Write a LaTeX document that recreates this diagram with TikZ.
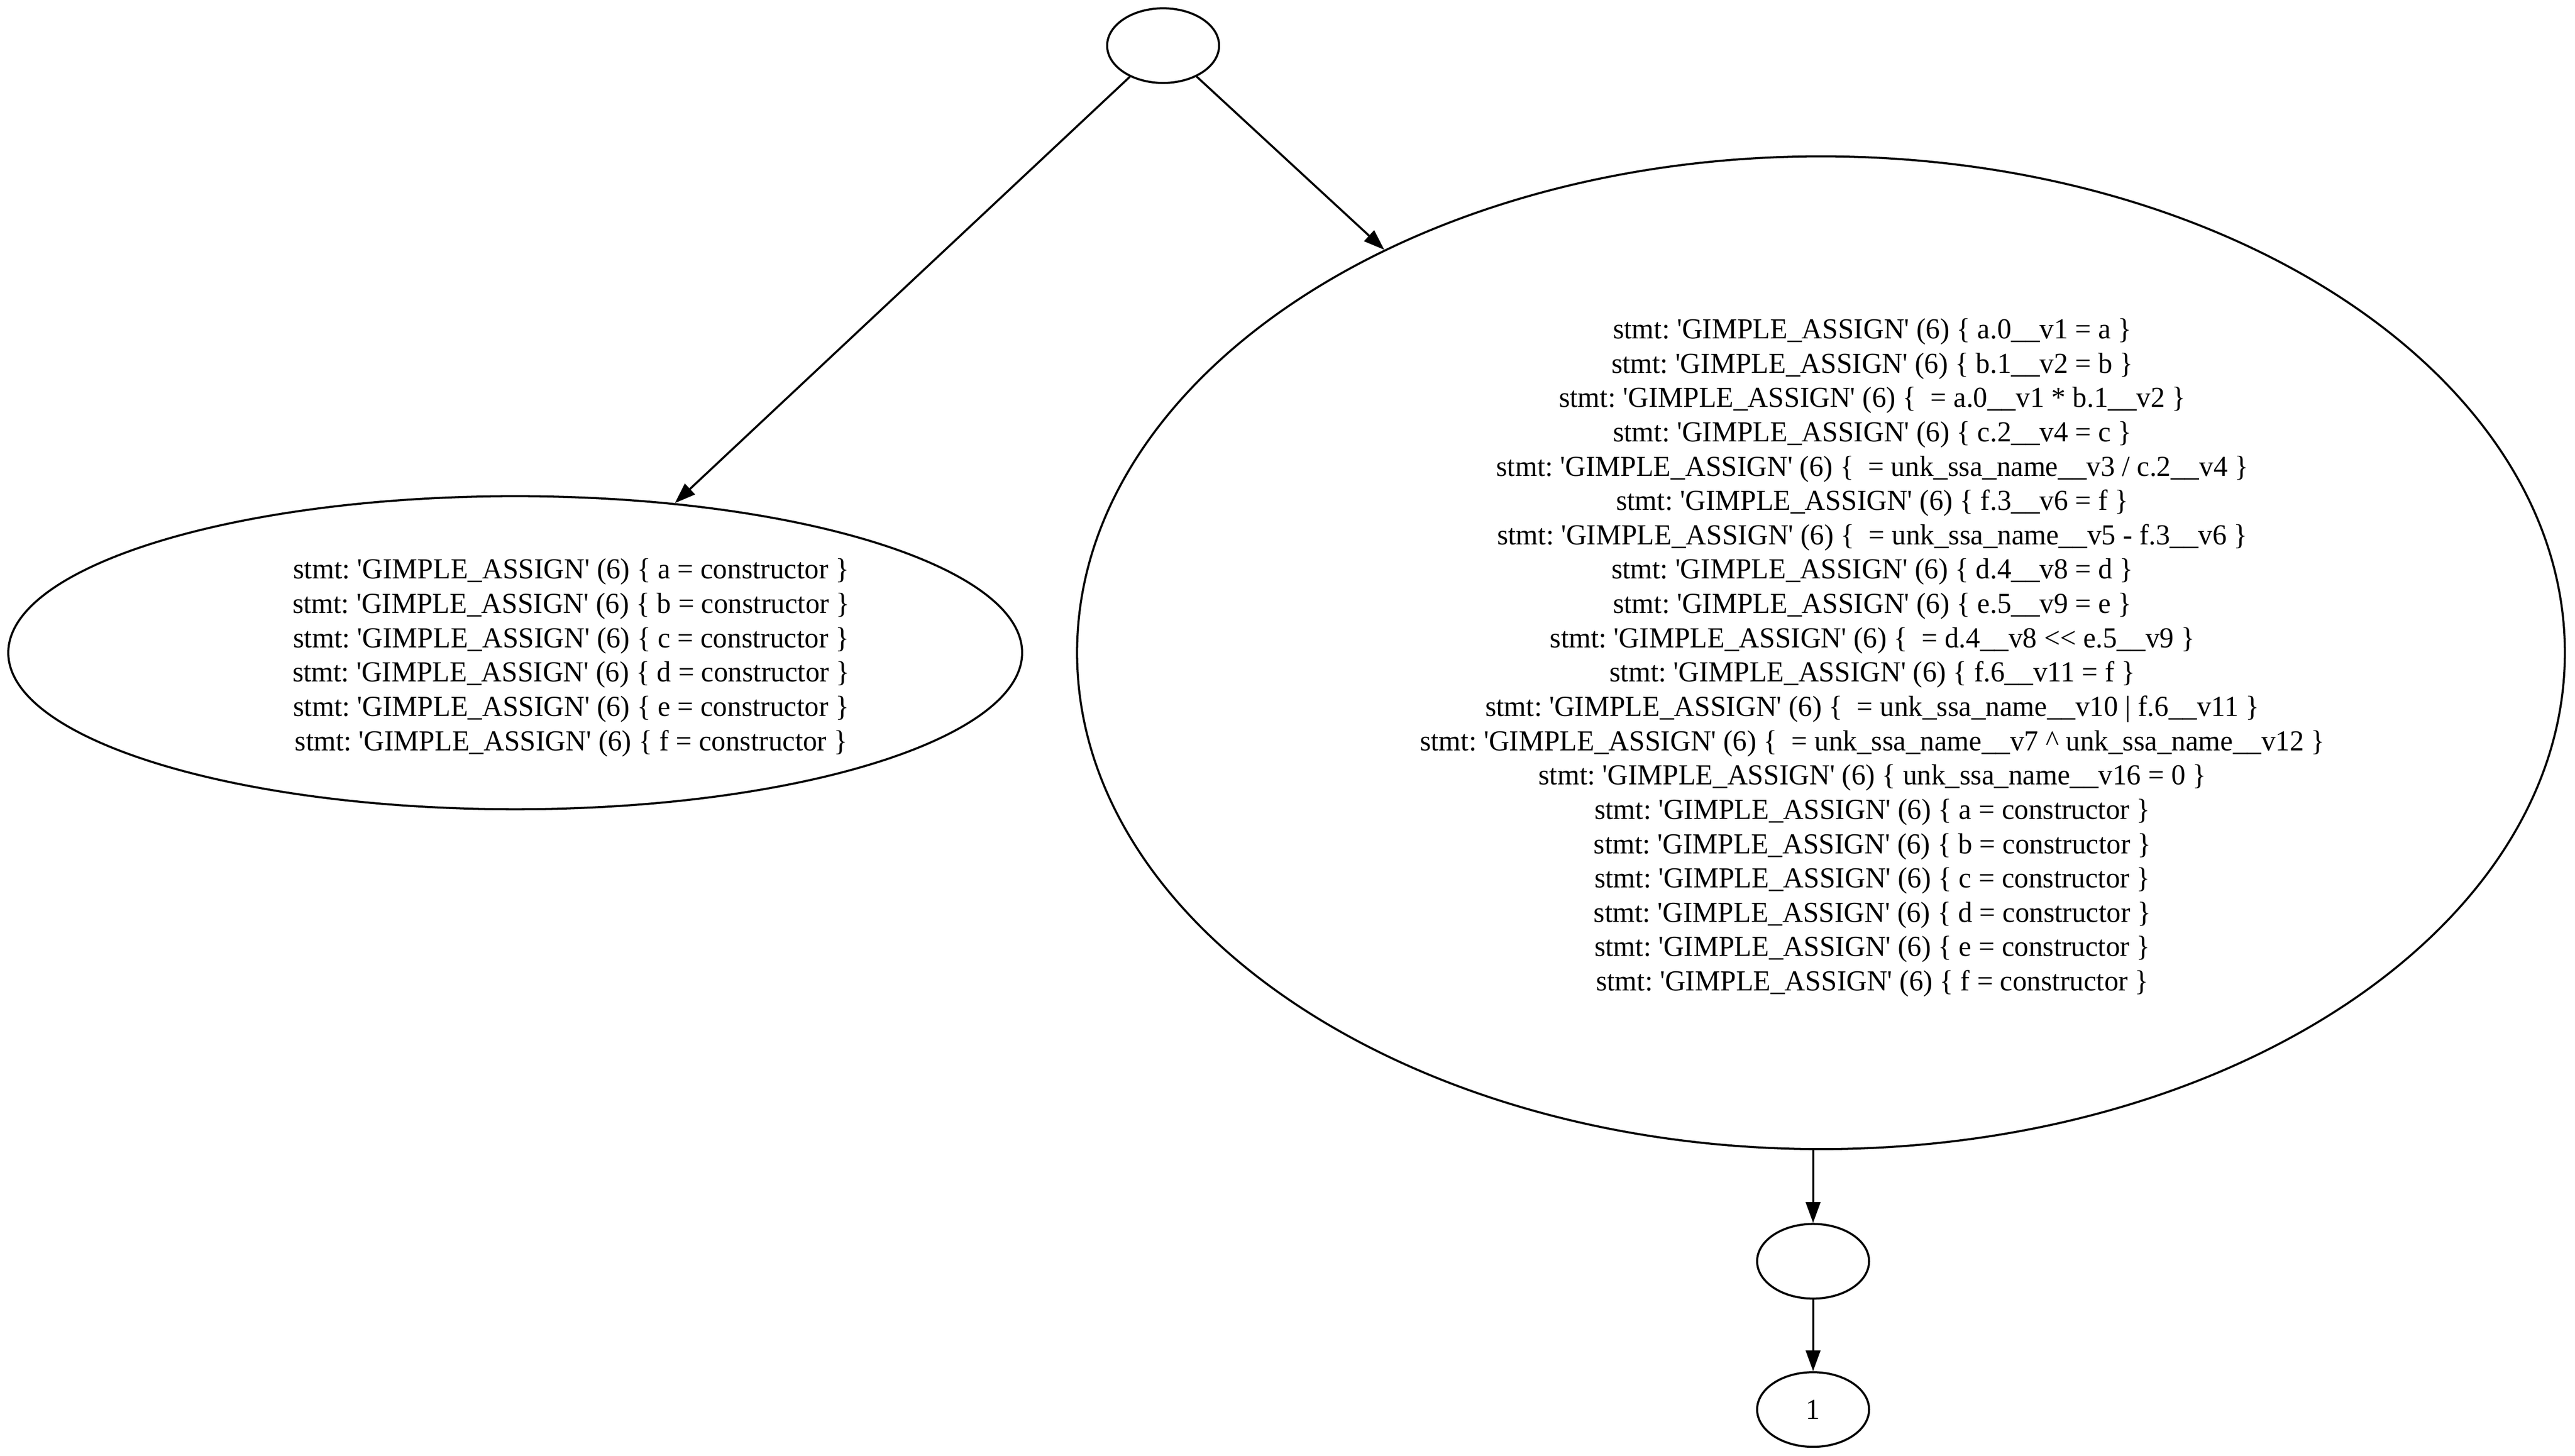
\documentclass[tikz,border=0pt]{standalone}
\usepackage{fontspec}
\newfontfamily\gvfont{Liberation Serif}[FakeStretch=0.978]
\usetikzlibrary{shapes.geometric,arrows.meta}
\newcommand{\gstmt}[1]{stmt: 'GIMPLE\_ASSIGN' (6) \{ #1 \}}
\tikzset{
  gnode/.style={draw, ellipse, line width=1pt, inner sep=0pt, align=center,
    font={\gvfont\fontsize{14pt}{16.55pt}\selectfont\frenchspacing}},
  gtext/.style={inner sep=0pt, align=center,
    font={\gvfont\fontsize{14pt}{16.55pt}\selectfont\frenchspacing}},
  garrow/.style={-{Triangle[length=10pt,width=7pt]}, line width=1pt}
}
\begin{document}
\begin{tikzpicture}[x=1pt,y=-1pt]
\useasboundingbox (0,0) rectangle (1242,702);
\node[gnode, minimum width=54pt, minimum height=36pt] (top) at (561,22) {};
\node[gnode, minimum width=489pt, minimum height=151pt] (left) at (248.5,314.8) {};
\node[gtext] (lefttext) at ([xshift=27pt,yshift=-2.4pt]left.center) {%
\gstmt{a = constructor}\\
\gstmt{b = constructor}\\
\gstmt{c = constructor}\\
\gstmt{d = constructor}\\
\gstmt{e = constructor}\\
\gstmt{f = constructor}};
\node[gnode, minimum width=717.6pt, minimum height=478.8pt] (right) at (878.3,314.8) {};
\node[gtext] (righttext) at ([xshift=24.8pt,yshift=-2.4pt]right.center) {%
\gstmt{a.0\_\_v1 = a}\\
\gstmt{b.1\_\_v2 = b}\\
\gstmt{\ = a.0\_\_v1 * b.1\_\_v2}\\
\gstmt{c.2\_\_v4 = c}\\
\gstmt{\ = unk\_ssa\_name\_\_v3 / c.2\_\_v4}\\
\gstmt{f.3\_\_v6 = f}\\
\gstmt{\ = unk\_ssa\_name\_\_v5 - f.3\_\_v6}\\
\gstmt{d.4\_\_v8 = d}\\
\gstmt{e.5\_\_v9 = e}\\
\gstmt{\ = d.4\_\_v8 <{}< e.5\_\_v9}\\
\gstmt{f.6\_\_v11 = f}\\
\gstmt{\ = unk\_ssa\_name\_\_v10 | f.6\_\_v11}\\
\gstmt{\ = unk\_ssa\_name\_\_v7 \textasciicircum{} unk\_ssa\_name\_\_v12}\\
\gstmt{unk\_ssa\_name\_\_v16 = 0}\\
\gstmt{a = constructor}\\
\gstmt{b = constructor}\\
\gstmt{c = constructor}\\
\gstmt{d = constructor}\\
\gstmt{e = constructor}\\
\gstmt{f = constructor}};
\node[gnode, minimum width=54pt, minimum height=36pt] (mid) at (874.5,608.3) {};
\node[gnode, minimum width=54pt, minimum height=36pt] (one) at (874.5,679.8) {1};
\draw[garrow] (top) -- (left);
\draw[garrow] (top) -- (right);
\draw[garrow] (mid |- right.south) -- (mid);
\draw[garrow] (mid) -- (one);
\end{tikzpicture}
\end{document}
